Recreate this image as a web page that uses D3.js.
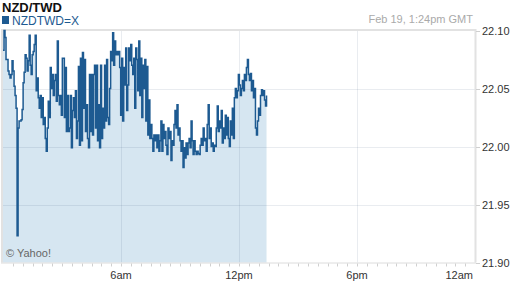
<!DOCTYPE html>
<html>
<head>
<meta charset="utf-8">
<script src="https://cdn.jsdelivr.net/npm/d3@7"></script>
<style>
	body { margin: 0; background: #fff; }
	svg { display: block; font-family: Arial, "Liberation Sans", sans-serif; }
</style>
</head>
<body>
<script>

// chart texts
var title = 'NZD/TWD',
	symbol = 'NZDTWD=X',
	stamp = 'Feb 19, 1:24pm GMT',
	credit = '\u00a9 Yahoo!';

// axis ticks
var yTicks = [21.90, 21.95, 22.00, 22.05, 22.10],
	xTickHours = [6, 12, 18, 24],
	xTickLabels = ['6am', '12pm', '6pm', '12am'];

// session: quotes from midnight to 1:24pm (minutes)
var sessionStart = 0,
	sessionEnd = 804;

// quotes, in time order
var prices = [
	22.083,22.100,22.094,22.075,22.075,22.065,22.062,22.059,22.062,22.074,
	22.065,22.052,22.044,22.033,21.923,22.016,22.022,22.022,22.023,22.032,
	22.055,22.064,22.079,22.076,22.065,22.074,22.096,22.070,22.062,22.079,
	22.082,22.088,22.096,22.048,22.059,22.042,22.033,22.044,22.025,22.042,
	22.019,22.025,22.007,21.996,22.016,22.039,22.025,22.068,22.050,22.062,
	22.044,22.057,22.062,22.039,22.091,22.044,22.036,22.044,22.027,22.076,
	22.076,22.025,22.068,22.013,22.044,22.013,22.016,22.044,21.999,22.031,
	22.042,22.025,22.048,22.007,22.022,22.069,22.001,22.076,22.005,22.081,
	22.033,22.075,22.013,22.036,22.007,21.999,22.062,22.013,22.062,22.010,
	22.062,22.070,22.016,22.070,22.005,22.036,21.999,22.070,22.007,22.033,
	22.016,22.070,22.022,22.075,22.025,22.019,22.050,22.082,22.074,22.098,
	22.070,22.091,22.079,22.082,22.079,22.082,22.068,22.027,22.076,22.022,
	22.068,22.053,22.085,22.031,22.053,22.085,22.074,22.088,22.070,22.062,
	22.076,22.033,22.085,22.075,22.048,22.091,22.044,22.076,22.025,22.070,
	22.050,22.075,22.022,22.069,22.010,22.040,22.007,22.019,22.007,21.996,
	22.010,22.005,22.010,21.999,22.010,21.996,22.005,22.022,21.996,22.019,
	22.007,22.013,22.001,21.993,22.016,22.007,22.013,21.988,22.005,22.001,
	22.019,22.031,22.016,22.036,22.010,22.016,22.005,21.996,22.005,21.982,
	21.999,21.990,22.003,21.993,22.003,22.007,21.999,22.022,22.005,21.993,
	22.005,21.996,21.993,21.996,21.994,21.993,22.001,22.007,22.001,22.016,
	22.005,22.007,21.996,22.019,22.036,22.007,22.016,22.000,22.003,21.996,
	22.001,22.000,22.016,22.035,22.013,22.022,22.016,22.031,22.003,22.016,
	22.007,22.027,22.010,22.025,22.007,22.000,22.022,22.010,22.033,22.007,
	22.042,22.050,22.042,22.048,22.062,22.053,22.044,22.050,22.057,22.048,
	22.062,22.057,22.068,22.075,22.062,22.057,22.063,22.048,22.057,22.042,
	22.050,22.016,22.010,22.022,22.033,22.027,22.044,22.049,22.044,22.048,
	22.040,22.035,22.044
];

var width = 512,
	height = 288,
	plotLeft = 3,
	plotRight = 475,
	plotTop = 30.5,
	plotBottom = 262.5,
	lineColor = '#1d5a91',
	fillColor = '#d6e6f1',
	gridColor = 'rgba(40,70,110,0.10)';

// quotes come at a steady pace through the session
var step = (sessionEnd - sessionStart) / (prices.length - 1);
var quotes = prices.map(function(p, i) {
	return { minute: sessionStart + i * step, price: p };
});

var x = d3.scaleLinear().domain([0, 24 * 60]).range([plotLeft, plotRight]),
	y = d3.scaleLinear().domain([21.90, 22.10]).range([plotBottom, plotTop]);

var svg = d3.select('body')
	.append('svg')
	.attr('width', width)
	.attr('height', height);

// filled area under the quotes
svg.append('path')
	.datum(quotes)
	.attr('fill', fillColor)
	.attr('d', d3.area()
		.curve(d3.curveStepAfter)
		.x(function(d) { return x(d.minute); })
		.y0(plotBottom)
		.y1(function(d) { return y(d.price); }));

// horizontal grid
svg.selectAll('.hgrid')
	.data(yTicks.slice(1, -1))
	.enter().append('line')
	.attr('x1', plotLeft)
	.attr('x2', plotRight)
	.attr('y1', function(d) { return Math.round(y(d)) + 0.5; })
	.attr('y2', function(d) { return Math.round(y(d)) + 0.5; })
	.attr('stroke', gridColor);

// vertical grid
svg.selectAll('.vgrid')
	.data(xTickHours.slice(0, -1))
	.enter().append('line')
	.attr('x1', function(d) { return Math.round(x(d * 60)) + 0.5; })
	.attr('x2', function(d) { return Math.round(x(d * 60)) + 0.5; })
	.attr('y1', plotTop)
	.attr('y2', plotBottom)
	.attr('stroke', gridColor);

// frame: top, left, right border and bottom axis line
svg.append('path')
	.attr('d', 'M' + (plotLeft - 1) + ',' + plotBottom + 'V' + (plotTop - 0.5) + 'H' + (plotRight + 0.5) + 'V' + plotBottom)
	.attr('fill', 'none')
	.attr('stroke', '#e2e2e2')
	.attr('stroke-width', 2);
svg.append('line')
	.attr('x1', plotLeft - 2)
	.attr('x2', plotRight + 1)
	.attr('y1', plotBottom + 0.5)
	.attr('y2', plotBottom + 0.5)
	.attr('stroke', '#dcdcdc');

// the quote line
svg.append('path')
	.datum(quotes)
	.attr('fill', 'none')
	.attr('stroke', lineColor)
	.attr('stroke-width', 1.5)
	.attr('d', d3.line()
		.curve(d3.curveStepAfter)
		.x(function(d) { return x(d.minute); })
		.y(function(d) { return y(d.price); }));

// minor half-hour ticks under the axis
svg.selectAll('.minor')
	.data(d3.range(30, 24 * 60, 30))
	.enter().append('line')
	.attr('x1', function(d) { return Math.round(x(d)) + 0.5; })
	.attr('x2', function(d) { return Math.round(x(d)) + 0.5; })
	.attr('y1', plotBottom + 1)
	.attr('y2', plotBottom + 4)
	.attr('stroke', '#d0d0d0');

// x labels, the last one kept inside the plot edge
svg.selectAll('.xlabel')
	.data(xTickHours)
	.enter().append('text')
	.text(function(d, i) { return xTickLabels[i]; })
	.attr('x', function(d, i) { return i === xTickHours.length - 1 ? x(d * 60) - 2 : x(d * 60); })
	.attr('y', 279)
	.attr('text-anchor', function(d, i) { return i === xTickHours.length - 1 ? 'end' : 'middle'; })
	.attr('font-size', 11)
	.attr('fill', '#333');

// y ticks and labels on the right
svg.selectAll('.ytick')
	.data(yTicks)
	.enter().append('line')
	.attr('x1', plotRight + 1)
	.attr('x2', plotRight + 5)
	.attr('y1', function(d) { return Math.round(y(d)) + 0.5; })
	.attr('y2', function(d) { return Math.round(y(d)) + 0.5; })
	.attr('stroke', '#cfcfcf');
svg.selectAll('.ylabel')
	.data(yTicks)
	.enter().append('text')
	.text(function(d) { return d.toFixed(2); })
	.attr('x', 482)
	.attr('y', function(d) { return y(d) + 4; })
	.attr('font-size', 11)
	.attr('fill', '#333');

// title and legend
svg.append('text')
	.text(title)
	.attr('x', 2)
	.attr('y', 12)
	.attr('font-size', 13)
	.attr('font-weight', 'bold')
	.attr('fill', '#111');
svg.append('rect')
	.attr('x', 2)
	.attr('y', 16)
	.attr('width', 7)
	.attr('height', 8)
	.attr('fill', lineColor);
svg.append('text')
	.text(symbol)
	.attr('x', 12)
	.attr('y', 24.5)
	.attr('font-size', 12)
	.attr('fill', lineColor);

// time stamp
svg.append('text')
	.text(stamp)
	.attr('x', 473)
	.attr('y', 23)
	.attr('text-anchor', 'end')
	.attr('font-size', 11)
	.attr('fill', '#aaa');

// credit
svg.append('text')
	.text(credit)
	.attr('x', 6)
	.attr('y', 257)
	.attr('font-size', 11)
	.attr('fill', '#666');

</script>
</body>
</html>
